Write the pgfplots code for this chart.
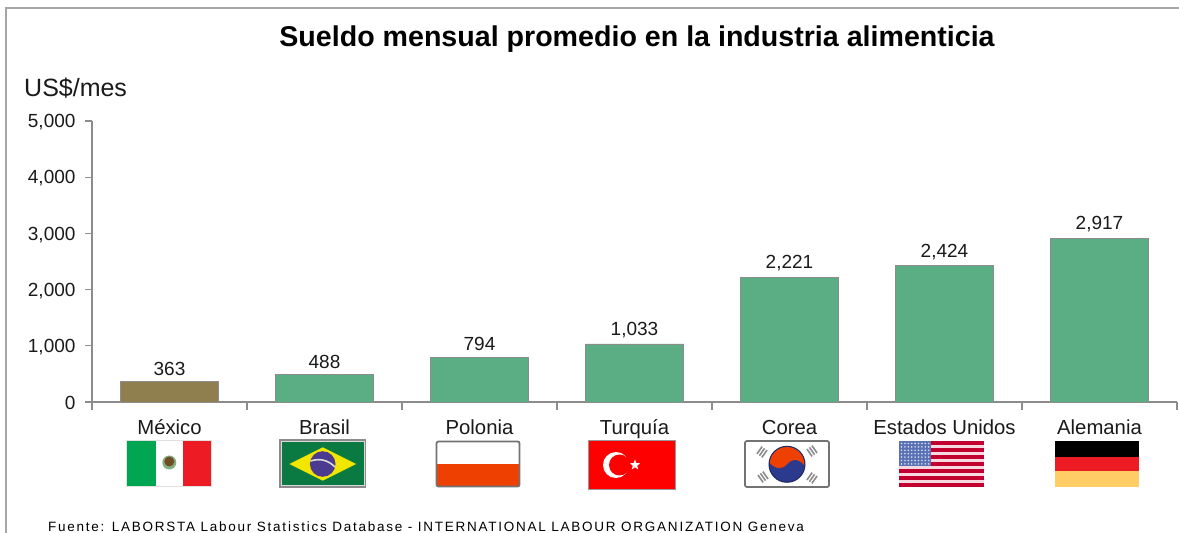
\documentclass[border=0pt]{standalone}
\usepackage{pgfplots}
\pgfplotsset{compat=1.18}
\usepackage{fontspec}
\setmainfont{Liberation Sans}
\usetikzlibrary{shapes.geometric}
\newfontfamily\footfont[LetterSpace=13]{Liberation Sans}
\definecolor{barg}{HTML}{5BAD84}
\definecolor{barb}{HTML}{8F7F4F}
\definecolor{axg}{HTML}{8C8C8C}
\definecolor{txt}{HTML}{1A1A1A}
\definecolor{mxg}{HTML}{00A651}
\definecolor{mxr}{HTML}{ED1C24}
\definecolor{brg}{HTML}{0B7A42}
\definecolor{bry}{HTML}{F2E500}
\definecolor{brb}{HTML}{4B3B90}
\definecolor{plr}{HTML}{EE4000}
\definecolor{krb}{HTML}{2B3A8C}
\definecolor{usr}{HTML}{C2002F}
\definecolor{usb}{HTML}{5A72B5}
\definecolor{deg}{HTML}{FFCC66}
\begin{document}
\begin{tikzpicture}[x=1pt,y=1pt]
\useasboundingbox (0,0) rectangle (1179,533);
\fill[white] (0,0) rectangle (1179,533);
\draw[color=black!35,line width=1.4pt] (6,0) -- (6,525) -- (1179,525);
\begin{axis}[
  at={(92pt,131pt)},anchor=south west,
  scale only axis,width=1085pt,height=281pt,
  xmin=-0.5,xmax=6.5,ymin=0,ymax=5000,
  axis x line=bottom,axis y line=left,
  axis line style={-,axg,line width=1.2pt},
  xtick={0,1,2,3,4,5,6},
  xticklabels={México,Brasil,Polonia,Turquía,Corea,Estados Unidos,Alemania},
  minor xtick={-0.5,0.5,1.5,2.5,3.5,4.5,5.5,6.5},
  ytick={0,1000,2000,3000,4000,5000},
  major x tick style={draw=none},
  tick style={axg,line width=1.2pt},
  tick align=outside,
  major tick length=7pt,minor tick length=8pt,
  /pgf/number format/assume math mode=true,
  /pgf/number format/.cd,1000 sep={,},
  /pgfplots/.cd,
  every tick label/.append style={font=\fontsize{19}{21}\selectfont,text=txt},
  xticklabel style={anchor=base,yshift=-26pt,font=\fontsize{20.3}{22}\selectfont},
  yticklabel style={xshift=-6pt,yshift=-1.2pt},
  ybar,bar width=98pt,
  nodes near coords,
  every node near coord/.append style={font=\fontsize{19}{21}\selectfont,text=txt,yshift=2.5pt},
]
\addplot[bar shift=0pt,fill=barb,draw=axg,line width=0.8pt] coordinates {(0,363)};
\addplot[bar shift=0pt,fill=barg,draw=axg,line width=0.8pt] coordinates {(1,488)(2,794)(3,1033)(4,2221)(5,2424)(6,2917)};
\end{axis}
\node[font=\bfseries\fontsize{28.6}{32}\selectfont,text=black] at (637,494) {Sueldo mensual promedio en la industria alimenticia};
\node[font=\fontsize{25}{28}\selectfont,text=txt,anchor=west,inner sep=0pt] at (24,445) {US\$/mes};
\node[font=\footfont\fontsize{13.5}{15}\selectfont,text=black,anchor=west,inner sep=0pt] at (48,6) {Fuente: LABORSTA Labour Statistics Database - INTERNATIONAL LABOUR ORGANIZATION Geneva};
\begin{scope}[shift={(0,533)},y=-1pt]
% Mexico
\fill[black!12] (126,440) rectangle (211.5,487.5);
\fill[white] (127,441) rectangle (210.5,486.5);
\fill[mxg] (127,441) rectangle (155.7,486.5);
\fill[mxr] (183.3,441) rectangle (210.5,486.5);
\fill[green!40!black!50] (169.3,462.5) circle (7);
\fill[brown!60!black] (169.3,461.5) circle (5);
% Brazil
\fill[black!45] (279,439.5) rectangle (366,488);
\fill[black!15] (280.5,441) rectangle (364.5,486.5);
\fill[brg] (281.5,442) rectangle (363.5,485.5);
\fill[bry] (289.3,464) -- (322.7,447.3) -- (356,464) -- (322.7,480.7) -- cycle;
\fill[brb] (322.7,464) circle (12.8);
\draw[white!85!black,line width=1.6pt] (310.5,461) .. controls (320,458) and (328,460) .. (335,467);
% Poland
\fill[white] (436.5,441.5) rectangle (519.5,463.7);
\fill[plr] (436.5,463.7) rectangle (519.5,486.5);
\draw[black!55,line width=1.8pt,rounded corners=2pt] (436.5,441.5) rectangle (519.5,486.5);
% Turkey
\fill[red] (588,440) rectangle (675,489);
\draw[black!40,line width=0.8pt] (588,440) rectangle (675,489);
\fill[white] (616,465) circle (13);
\fill[red] (619.5,465) circle (10.5);
\node[star,star points=5,star point ratio=2.4,fill=white,inner sep=0pt,minimum size=11pt] at (635,465) {};
% Korea
\fill[white] (745,441) rectangle (829,487);
\draw[black!55,line width=1.8pt,rounded corners=2pt] (745,441) rectangle (829,487);
\foreach \cx/\cy/\a in {762/452/55,812/451/-55,763/477/-55,812/478/55}{
  \begin{scope}[shift={(\cx,\cy)},rotate=\a]
    \foreach \d in {-3,0,3}{\draw[black!45,line width=1.6pt] (-4.5,\d) -- (4.5,\d);}
  \end{scope}
}
\fill[krb!70!black] (787,464.3) circle (18.5);
\begin{scope}
\clip (787,464.3) circle (17.3);
\fill[krb] (765,440) rectangle (810,490);
\fill[plr] (768,461) .. controls (776,471) and (783,469) .. (787,464.3) .. controls (791,459) and (798,457) .. (806,467) -- (806,440) -- (768,440) -- cycle;
\end{scope}
% USA
\fill[white!85!usr] (899,441) rectangle (984,487);
\foreach \i in {0,2,...,12}{
  \fill[usr] (899,{441+\i*46/13}) rectangle (984,{441+(\i+1)*46/13});
}
\fill[usb] (899,441) rectangle (931,465.7);
\foreach \r in {0,...,6}{
  \foreach \c in {0,...,8}{
    \fill[white!75!usb] ({901.5+\c*3.4},{443.5+\r*3.4}) circle (0.9);
  }
}
% Germany
\fill[black] (1055,441) rectangle (1139,456.7);
\fill[mxr] (1055,456.7) rectangle (1139,471.3);
\fill[deg] (1055,471.3) rectangle (1139,487);
\end{scope}
\end{tikzpicture}
\end{document}
